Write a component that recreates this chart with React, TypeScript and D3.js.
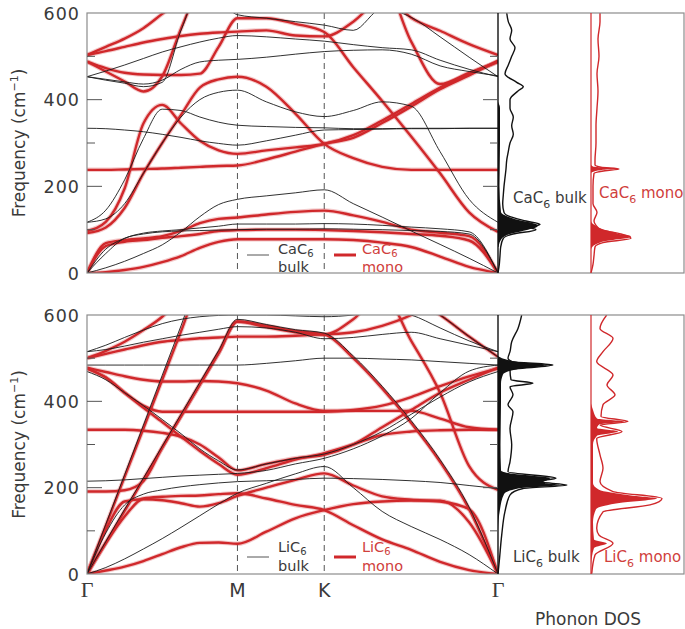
import React, { useEffect, useRef } from 'react';
import * as d3 from 'd3';

// path coordinate (|Γ-M| = 1), symmetry points
const kGrid = [0, 0.125, 0.25, 0.375, 0.5, 0.625, 0.75, 0.875, 1, 1.192, 1.385, 1.577, 1.77, 1.962, 2.155, 2.347, 2.54, 2.732];
const symPoints = [0, 1, 1.577, 2.732];
const symLabels = ['Γ', 'M', 'K', 'Γ'];
const freqTicks = [0, 100, 200, 300, 400, 500, 600];
const freqLabels = [0, 200, 400, 600];

// CaC6 monolayer bands (cm-1) on kGrid
const caMonoBands = [
  [0, 2, 7, 14, 25, 39, 58, 72, 78, 78, 78, 78, 76, 70, 60, 38, 14, 0],
  [0, 62, 72, 76, 81, 85, 90, 97, 99, 100, 100, 99, 97, 94, 90, 86, 75, 0],
  [0, 69, 76, 80, 85, 97, 115, 125, 128, 135, 141, 144, 133, 118, 100, 93, 85, 0],
  [97, 118, 195, 345, 388, 345, 305, 283, 275, 283, 290, 298, 318, 352, 390, 428, 460, 487],
  [92, 105, 150, 230, 300, 365, 428, 447, 453, 430, 368, 298, 265, 245, 238, 238, 238, 238],
  [238, 238, 239, 240, 241, 243, 245, 247, 248, 262, 280, 298, 312, 346, 384, 424, 456, 490],
  [488, 473, 462, 458, 457, 457, 460, 522, 588, 588, 575, 556, 475, 397, 315, 230, 140, 95],
  [488, 465, 442, 419, 454, 564, 660, 700, 720, 720, 700, 690, 690, 680, 534, 436, 462, 488],
  [503, 522, 541, 565, 598, 630, 660, 680, 690, 690, 690, 690, 680, 650, 589, 559, 528, 503],
  [503, 512, 522, 532, 540, 547, 552, 555, 557, 560, 548, 546, 580, 640, 660, 660, 660, 660],
];

// CaC6 bulk bands
const caBulkBands = [
  [0, 12, 27, 45, 65, 95, 130, 158, 170, 178, 185, 192, 160, 129, 97, 66, 34, 0],
  [0, 55, 80, 92, 97, 100, 104, 108, 113, 113, 113, 114, 113, 110, 106, 102, 95, 0],
  [0, 45, 80, 90, 95, 97, 98, 99, 100, 101, 101, 102, 101, 100, 98, 96, 90, 0],
  [117, 145, 215, 310, 378, 375, 360, 348, 341, 338, 336, 335, 333, 333, 334, 334, 334, 334],
  [117, 125, 160, 230, 300, 360, 400, 417, 422, 395, 372, 361, 375, 395, 385, 280, 170, 117],
  [334, 333, 330, 326, 320, 313, 305, 299, 295, 305, 318, 330, 331, 332, 333, 333, 334, 334],
  [453, 466, 480, 495, 510, 522, 533, 542, 548, 545, 540, 535, 527, 520, 515, 491, 470, 453],
  [453, 447, 441, 436, 445, 470, 487, 491, 493, 498, 505, 511, 514, 515, 505, 478, 465, 455],
  [453, 445, 438, 430, 440, 560, 650, 630, 596, 588, 580, 572, 560, 610, 590, 545, 498, 453],
];

// LiC6 monolayer bands
const liMonoBands = [
  [0, 8, 17, 30, 46, 62, 72, 73, 70, 98, 129, 148, 162, 168, 170, 170, 120, 0],
  [0, 102, 168, 173, 171, 164, 156, 164, 181, 200, 218, 233, 205, 180, 172, 168, 150, 0],
  [0, 71, 133, 175, 179, 181, 182, 185, 187, 175, 160, 148, 113, 80, 56, 28, 9, 0],
  [0, 112, 225, 337, 450, 562, 675, 720, 740, 740, 740, 740, 720, 700, 640, 600, 550, 503],
  [0, 73, 146, 219, 293, 366, 439, 512, 585, 575, 563, 555, 500, 430, 350, 260, 150, 0],
  [191, 191, 194, 215, 293, 366, 439, 512, 585, 572, 560, 555, 590, 650, 540, 420, 250, 195],
  [334, 334, 334, 332, 327, 318, 300, 270, 240, 255, 268, 276, 300, 340, 380, 420, 450, 478],
  [476, 455, 420, 385, 352, 318, 285, 255, 230, 245, 265, 280, 300, 322, 330, 333, 334, 334],
  [476, 455, 420, 390, 376, 376, 376, 376, 376, 376, 376, 376, 380, 390, 410, 435, 458, 476],
  [478, 468, 458, 450, 446, 446, 447, 446, 442, 425, 395, 378, 378, 378, 378, 360, 340, 334],
  [500, 517, 538, 565, 596, 640, 680, 700, 700, 700, 700, 700, 700, 700, 700, 700, 700, 700],
  [500, 510, 520, 530, 538, 542, 546, 548, 550, 550, 552, 555, 560, 575, 600, 640, 660, 660],
];

// LiC6 bulk bands
const liBulkBands = [
  [0, 15, 35, 58, 82, 108, 135, 162, 187, 210, 232, 249, 200, 145, 110, 80, 45, 0],
  [0, 95, 160, 185, 195, 202, 207, 211, 214, 216, 219, 222, 221, 219, 216, 212, 205, 198],
  [215, 216, 218, 221, 224, 227, 229, 231, 233, 240, 255, 268, 290, 320, 360, 420, 470, 484],
  [0, 115, 230, 345, 460, 575, 690, 720, 740, 740, 740, 740, 720, 700, 640, 600, 550, 503],
  [0, 75, 150, 222, 296, 370, 444, 518, 590, 578, 566, 558, 505, 435, 355, 265, 155, 0],
  [469, 450, 420, 390, 358, 325, 290, 262, 241, 255, 268, 278, 300, 330, 370, 410, 445, 469],
  [484, 484, 484, 484, 484, 484, 484, 484, 484, 488, 494, 500, 500, 498, 496, 492, 488, 484],
  [515, 530, 548, 565, 580, 590, 596, 599, 600, 600, 598, 596, 600, 610, 600, 570, 540, 515],
  [515, 520, 528, 537, 545, 553, 560, 567, 573, 570, 560, 545, 548, 555, 560, 545, 530, 515],
];

// phonon DOS (arbitrary units, panel width = 92)
const caBulkDosF = [0, 20, 40, 60, 80, 90, 100, 105, 112, 120, 130, 140, 160, 180, 200, 220, 240, 260, 280, 300, 320, 340, 360, 380, 400, 420, 430, 440, 460, 480, 500, 520, 540, 560, 580, 600];
const caBulkDosV = [0, 1.3, 2, 2.7, 5.3, 15, 38, 32, 42, 28, 12, 6, 4.7, 5.3, 6, 7, 8, 8.7, 10.3, 12, 15.3, 13.7, 15.3, 12, 12, 20, 25.3, 18.7, 7, 10.3, 13.7, 17, 12, 13.7, 10.3, 8.7];
const caBulkFillF = [60, 80, 90, 100, 105, 110, 115, 120, 130, 140, 200, 300, 380, 395];
const caBulkFillV = [0.5, 4, 12, 30, 38, 40, 35, 25, 10, 3, 1.5, 2, 2, 0];

const caMonoDosF = [0, 20, 40, 60, 70, 80, 85, 90, 100, 110, 120, 140, 160, 200, 230, 236, 240, 244, 250, 260, 300, 340, 380, 420, 460, 500, 540, 580, 600];
const caMonoDosV = [0, 2, 3, 4, 12, 40, 37, 30, 10, 5, 3, 6, 2, 2, 3, 14, 28, 10, 4, 4, 5, 5, 6, 7, 6, 8, 7, 9, 9];
const caMonoFillF = [55, 65, 75, 80, 85, 90, 95, 100, 110, 120, 230, 238, 241, 246, 250];
const caMonoFillV = [0, 4, 18, 35, 40, 28, 22, 13, 4, 0, 0, 12, 24, 2, 0];

const liBulkDosF = [0, 30, 90, 145, 183, 198, 206, 214, 222, 237, 260, 300, 337, 376, 392, 415, 434, 442, 450, 473, 484, 492, 500, 515, 538, 569, 600];
const liBulkDosV = [0, 1.3, 3.7, 7, 12, 25, 69, 40, 58, 10, 12, 13.7, 12, 15, 10, 15, 12, 35, 13, 12, 55, 14, 10, 12, 13.7, 20, 23.7];
const liBulkFillF = [100, 150, 185, 198, 206, 212, 222, 232, 240, 300, 400, 440, 462, 474, 480, 484, 490, 500, 505];
const liBulkFillV = [0, 2, 6, 20, 62, 45, 52, 15, 3, 2.5, 3, 3, 5, 18, 40, 50, 25, 4, 0];

const liMonoDosF = [0, 44, 71, 90, 106, 144, 160, 175, 191, 214, 245, 276, 314, 330, 345, 353, 365, 392, 415, 438, 461, 492, 515, 546, 569, 600];
const liMonoDosV = [0.7, 4, 22, 8, 5.7, 12, 59, 71, 22, 9, 12, 9, 5.7, 31, 9, 37, 10, 12, 24, 16, 22, 5.7, 12, 22, 9, 15.7];
const liMonoFillF = [20, 60, 71, 80, 120, 150, 165, 175, 182, 195, 210, 300, 320, 330, 338, 346, 353, 360, 380, 395];
const liMonoFillV = [0, 3, 16, 3, 2, 5, 30, 66, 40, 8, 2, 2, 6, 27, 6, 8, 33, 6, 2, 0];

const RED = '#d0282b';
const RED_TEXT = '#d0403c';
const TEXT = '#3a3a3a';
const FONT = '"DejaVu Sans", sans-serif';

const panels = [
  {
    top: 13, bottom: 273, mono: caMonoBands, bulk: caBulkBands, name: 'CaC',
    bulkDos: [caBulkDosF, caBulkDosV], bulkFill: [caBulkFillF, caBulkFillV],
    monoDos: [caMonoDosF, caMonoDosV], monoFill: [caMonoFillF, caMonoFillV],
    legendY: 255, text1: 254, text2: 272, dosBulkY: 203, dosMonoY: 198,
  },
  {
    top: 315, bottom: 574, mono: liMonoBands, bulk: liBulkBands, name: 'LiC',
    bulkDos: [liBulkDosF, liBulkDosV], bulkFill: [liBulkFillF, liBulkFillV],
    monoDos: [liMonoDosF, liMonoDosV], monoFill: [liMonoFillF, liMonoFillV],
    legendY: 557, text1: 552, text2: 571, dosBulkY: 562, dosMonoY: 562,
  },
];

const App = () => {
  const ref = useRef<SVGSVGElement>(null);

  useEffect(() => {
    const svg = d3.select(ref.current);
    svg.selectAll('*').remove();

    const x0 = 87, xBand = 498, xMono = 591, xRight = 684;
    const x = d3.scaleLinear().domain([0, 2.732]).range([x0, xBand]);
    const dosBulkX = d3.scaleLinear().domain([0, 92]).range([xBand, xBand + 92]);
    const dosMonoX = d3.scaleLinear().domain([0, 92]).range([xMono, xMono + 92]);

    panels.forEach((p, pi) => {
      const y = d3.scaleLinear().domain([0, 600]).range([p.bottom, p.top]);
      const g = svg.append('g');
      const clipId = `clip-${pi}`;
      g.append('clipPath').attr('id', clipId)
        .append('rect').attr('x', x0).attr('y', p.top).attr('width', xBand - x0).attr('height', p.bottom - p.top);

      // dashed lines at M and K
      [symPoints[1], symPoints[2]].forEach(k => {
        g.append('line').attr('x1', x(k)).attr('x2', x(k)).attr('y1', p.top).attr('y2', p.bottom)
          .attr('stroke', '#555').attr('stroke-width', 1).attr('stroke-dasharray', '6,4');
      });

      const line = d3.line<number>()
        .x((_, i) => x(kGrid[i]))
        .y(d => y(d))
        .curve(d3.curveMonotoneX);

      const bands = g.append('g').attr('clip-path', `url(#${clipId})`);
      p.mono.forEach(b => {
        bands.append('path').attr('d', line(b)).attr('fill', 'none')
          .attr('stroke', RED).attr('stroke-opacity', 0.25).attr('stroke-width', 4.5);
        bands.append('path').attr('d', line(b)).attr('fill', 'none')
          .attr('stroke', RED).attr('stroke-width', 2.4);
      });
      p.bulk.forEach(b => {
        bands.append('path').attr('d', line(b)).attr('fill', 'none')
          .attr('stroke', '#1a1a1a').attr('stroke-width', 0.9);
      });

      // DOS
      const dosClip = `dclip-${pi}`;
      g.append('clipPath').attr('id', dosClip)
        .append('rect').attr('x', xBand).attr('y', p.top).attr('width', xRight - xBand).attr('height', p.bottom - p.top);
      const dg = g.append('g').attr('clip-path', `url(#${dosClip})`);

      const drawDos = (sx, fill, outline, color) => {
        const area = d3.area<number>()
          .y((_, i) => y(fill[0][i]))
          .x0(sx(0))
          .x1(d => sx(d))
          .curve(d3.curveMonotoneY);
        dg.append('path').attr('d', area(fill[1])).attr('fill', color);
        const ln = d3.line<number>()
          .y((_, i) => y(outline[0][i]))
          .x(d => sx(d))
          .curve(d3.curveMonotoneY);
        dg.append('path').attr('d', ln(outline[1])).attr('fill', 'none')
          .attr('stroke', color).attr('stroke-width', 1.4);
      };
      drawDos(dosBulkX, p.bulkFill, p.bulkDos, '#111');
      drawDos(dosMonoX, p.monoFill, p.monoDos, RED);

      // frame
      g.append('rect').attr('x', x0).attr('y', p.top).attr('width', xRight - x0).attr('height', p.bottom - p.top)
        .attr('fill', 'none').attr('stroke', '#8c8c8c').attr('stroke-width', 1.2);
      g.append('line').attr('x1', xBand).attr('x2', xBand).attr('y1', p.top).attr('y2', p.bottom)
        .attr('stroke', '#111').attr('stroke-width', 1.4);
      g.append('line').attr('x1', xMono).attr('x2', xMono).attr('y1', p.top).attr('y2', p.bottom)
        .attr('stroke', RED).attr('stroke-width', 1.2);

      // ticks
      freqTicks.forEach(t => {
        const len = t % 200 === 0 ? 15 : 8;
        if (t === 0 || t === 600) return;
        g.append('line').attr('x1', x0).attr('x2', x0 + len).attr('y1', y(t)).attr('y2', y(t))
          .attr('stroke', '#555').attr('stroke-width', 1);
        g.append('line').attr('x1', xBand - len).attr('x2', xBand).attr('y1', y(t)).attr('y2', y(t))
          .attr('stroke', '#555').attr('stroke-width', 1);
      });
      freqLabels.forEach(t => {
        g.append('text').attr('x', 80).attr('y', y(t) + 6.5).attr('text-anchor', 'end')
          .attr('font-family', FONT).attr('font-size', 17.5).attr('letter-spacing', 1)
          .attr('fill', TEXT).text(t);
      });

      // y label
      const yl = g.append('text')
        .attr('transform', `translate(25,${(p.top + p.bottom) / 2}) rotate(-90)`)
        .attr('text-anchor', 'middle').attr('font-family', FONT).attr('font-size', 17).attr('fill', TEXT);
      yl.append('tspan').text('Frequency (cm');
      yl.append('tspan').attr('font-size', 11).attr('dy', -7).text('−1');
      yl.append('tspan').attr('dy', 7).text(')');

      // legend
      const ly = p.legendY;
      g.append('line').attr('x1', 247).attr('x2', 269).attr('y1', ly).attr('y2', ly)
        .attr('stroke', '#555').attr('stroke-width', 1);
      g.append('line').attr('x1', 334).attr('x2', 356).attr('y1', ly).attr('y2', ly)
        .attr('stroke', RED).attr('stroke-width', 3);
      const legendText = (xx, color, second) => {
        const t = g.append('text').attr('x', xx).attr('y', p.text1)
          .attr('font-family', FONT).attr('font-size', 14.5).attr('fill', color);
        t.append('tspan').text(p.name);
        t.append('tspan').attr('font-size', 10).attr('dy', 3).text('6');
        g.append('text').attr('x', xx).attr('y', p.text2)
          .attr('font-family', FONT).attr('font-size', 14.5).attr('fill', color).text(second);
      };
      legendText(278, TEXT, 'bulk');
      legendText(362, RED_TEXT, 'mono');

      // DOS labels
      const dl = (xx, yy, color, word) => {
        const t = g.append('text').attr('x', xx).attr('y', yy)
          .attr('font-family', FONT).attr('font-size', 15).attr('fill', color);
        t.append('tspan').text(p.name);
        t.append('tspan').attr('font-size', 11).attr('dy', 5).text('6');
        t.append('tspan').attr('dy', -5).text(' ' + word);
      };
      dl(513, p.dosBulkY, TEXT, 'bulk');
      dl(pi === 0 ? 599 : 604, p.dosMonoY, RED_TEXT, 'mono');
    });

    // x labels
    symPoints.forEach((k, i) => {
      const isG = symLabels[i] === 'Γ';
      svg.append('text').attr('x', x(k)).attr('y', 597).attr('text-anchor', 'middle')
        .attr('font-family', isG ? '"Liberation Serif", serif' : FONT)
        .attr('font-size', isG ? 22 : 19).attr('fill', TEXT).text(symLabels[i]);
    });
    svg.append('text').attr('x', 588).attr('y', 625).attr('text-anchor', 'middle')
      .attr('font-family', FONT).attr('font-size', 17).attr('fill', TEXT).text('Phonon DOS');
  }, []);

  return (
    <svg ref={ref} width={685} height={629}
      style={{ position: 'absolute', left: 0, top: 0, background: '#fff' }} />
  );
};

export default App;
